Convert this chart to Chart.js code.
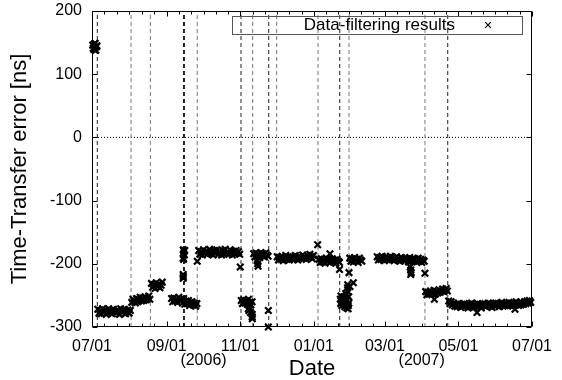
<!DOCTYPE html>
<html>
<head>
<meta charset="utf-8">
<script src="https://cdn.jsdelivr.net/npm/chart.js@4/dist/chart.umd.min.js"></script>
<style>
  html, body { margin: 0; padding: 0; background: #fff; }
  canvas { display: block; }
</style>
</head>
<body>
<canvas id="c" width="562" height="380"></canvas>
<script>
// Days are counted from 2006-07-01.
const monthTickDays = [0, 62, 123, 184, 243, 304, 365];
const monthTickLabels = ['07/01', '09/01', '11/01', '01/01', '03/01', '05/01', '07/01'];
const yearLabelDays = [92.5, 273.5];
const yearLabels = ['(2006)', '(2007)'];

// Event markers (vertical dashed lines)
const eventDaysDark = [4.4, 75.9, 76.7, 123.6, 146.6, 205.5, 295.1];
const eventDaysLight = [32.4, 48.4, 87.3, 133.3, 153.2, 187.5, 213.2, 276.2];

// Filtered time-transfer error [ns], one value per day inside each run
const runStart = [0.6, 1.1, 4.8, 33.0, 49.3, 66.0, 77.0, 88.5, 123.8, 134.1, 153.7, 188.3, 213.8, 236.6, 276.8, 295.9];
const runJulyA = [146, 139, 149, 143];
const runJulyB = [141, 148, 138, 145];
const runJuly = [-272, -278, -274, -279, -271, -276, -273, -280, -275, -271, -277, -274, -279, -272, -276, -278, -273, -275, -280, -271, -277, -274, -272, -279, -276, -273, -278, -274];
const runAug = [-261, -256, -259, -262, -255, -260, -257, -253, -259, -254, -258, -252, -257, -255, -251, -256];
const runAugEnd = [-231, -237, -233, -239, -230, -236, -232, -238, -234, -229];
const runSepA = [-255, -260, -254, -259, -256, -261, -253, -258, -257, -262, -255];
const runSepB = [-264, -259, -263, -258, -266, -261, -260, -265, -262, -267, -263];
const runOct = [-179, -185, -181, -186, -178, -183, -180, -185, -182, -177, -184, -181, -186, -179, -183, -178, -185, -180, -182, -186, -179, -184, -177, -183, -181, -185, -178, -182, -186, -180, -184, -179, -183, -181, -185];
const runNovA = [-258, -263, -257, -262, -259, -264, -256, -261, -265, -260];
const runNovB = [-184, -189, -183, -188, -185, -190, -182, -187, -184, -189, -183, -186, -188];
const runDec = [-189, -194, -190, -193, -188, -195, -191, -187, -193, -190, -194, -188, -192, -189, -193, -187, -191, -194, -188, -190, -192, -186, -191, -189, -193, -187, -190, -185, -189, -192, -187];
const runJan = [-193, -198, -192, -197, -194, -199, -191, -196, -193, -198, -195, -192, -197, -194, -199, -193, -196, -198];
const runFebA = [-191, -196, -192, -197, -190, -195, -193, -198, -191, -194, -196];
const runMar = [-189, -194, -190, -193, -188, -192, -195, -189, -193, -191, -194, -188, -193, -190, -195, -191, -189, -194, -192, -196, -190, -193, -195, -191, -194, -192, -197, -190, -195, -193, -196, -192, -194, -197, -191, -196, -193, -198, -194, -196];
const runApr = [-244, -249, -245, -248, -243, -247, -246, -242, -248, -244, -246, -241, -245, -243, -240, -244, -242, -239, -243];
const runMay = [-259, -263, -260, -265, -262, -267, -264, -268, -263, -266,
                -269, -264, -267, -263, -268, -265, -270, -264, -267, -262,
                -266, -269, -264, -268, -263, -267, -265, -270, -264, -266,
                -263, -268, -265, -262, -267, -264, -269, -263, -266, -262,
                -266, -263, -268, -264, -261, -267, -263, -266, -262, -265,
                -261, -266, -263, -267, -262, -265, -260, -264, -266, -261,
                -265, -262, -264, -260, -263, -259, -262, -258, -261];
const runValues = [runJulyA, runJulyB, runJuly, runAug, runAugEnd, runSepA, runSepB, runOct, runNovA, runNovB, runDec, runJan, runFebA, runMar, runApr, runMay];

// Short bursts and isolated samples
const spotDays = [75.7, 76.0, 76.3, 76.6, 76.9, 75.7, 75.9, 75.6, 75.8, 75.7,
                  87.3, 123.0,
                  129.7, 130.2, 131.0, 131.5, 132.9, 132.9, 133.0,
                  137.0, 137.4, 137.8, 146.3, 146.3,
                  187.2, 197.4, 205.3,
                  206.0, 206.3, 206.6, 207.0, 207.3, 207.6, 208.0, 208.3, 208.6, 209.0, 209.4, 209.8,
                  210.2, 210.6, 211.0, 211.4, 211.8, 212.2, 212.6, 213.0, 212.0, 213.0, 210.5, 212.5,
                  212.1, 214.0, 216.8, 213.2,
                  264.0, 264.4, 264.8, 264.4, 276.2, 284.0, 319.4, 350.9];
const spotValues = [-178, -184, -180, -186, -179, -191, -193, -217, -220, -223,
                    -196, -205,
                    -271, -274, -272, -277, -280, -284, -287,
                    -195, -200, -204, -274, -300,
                    -170, -184, -209,
                    -256, -263, -251, -260, -266, -254, -262, -257, -265, -252, -260, -268,
                    -255, -263, -248, -270, -258, -244, -266, -252, -238, -262, -247, -271,
                    -233, -236, -230, -214,
                    -205, -210, -214, -217, -215, -256, -277, -272];

const FONT = "'Liberation Sans', Arial, Helvetica, sans-serif";
Chart.defaults.font.family = FONT;
Chart.defaults.color = '#000';

const samples = [];
runValues.forEach((vals, i) => vals.forEach((v, k) => samples.push({ x: runStart[i] + k, y: v })));
spotDays.forEach((d, i) => samples.push({ x: d, y: spotValues[i] }));

function eventLines(days) {
  const pts = [];
  days.forEach(d => { pts.push({ x: d, y: -300 }, { x: d, y: 200 }, { x: d, y: NaN }); });
  return pts;
}

// Boxed plot frame with inward tick marks on all four sides
const framePlugin = {
  id: 'frame',
  afterDatasetsDraw(chart) {
    const { ctx, chartArea: a, scales: { x, y } } = chart;
    const L = Math.round(a.left) + 0.5, R = Math.round(a.right) - 0.5;
    const T = Math.round(a.top) + 0.5, B = Math.round(a.bottom) - 0.5;
    ctx.save();
    ctx.strokeStyle = '#000';
    ctx.lineWidth = 1;
    ctx.beginPath();
    ctx.rect(L, T, R - L, B - T);
    // y ticks every 100
    for (let v = -300; v <= 200; v += 100) {
      const py = Math.round(y.getPixelForValue(v)) + 0.5;
      ctx.moveTo(L, py); ctx.lineTo(L + 5, py);
      ctx.moveTo(R, py); ctx.lineTo(R - 5, py);
    }
    // x ticks: month pairs, split into six minor steps
    for (let i = 0; i < monthTickDays.length; i++) {
      const px = Math.round(x.getPixelForValue(monthTickDays[i])) + 0.5;
      ctx.moveTo(px, B); ctx.lineTo(px, B - 5);
      ctx.moveTo(px, T); ctx.lineTo(px, T + 5);
      if (i < monthTickDays.length - 1) {
        const span = monthTickDays[i + 1] - monthTickDays[i];
        for (let k = 1; k < 6; k++) {
          const mx = Math.round(x.getPixelForValue(monthTickDays[i] + span * k / 6)) + 0.5;
          ctx.moveTo(mx, B); ctx.lineTo(mx, B - 3);
          ctx.moveTo(mx, T); ctx.lineTo(mx, T + 3);
        }
      }
    }
    ctx.stroke();
    ctx.restore();
  }
};

// Boxed key in the upper right: label text followed by the sample marker
const keyPlugin = {
  id: 'key',
  afterDatasetsDraw(chart) {
    const { ctx, chartArea: a } = chart;
    const ds = chart.data.datasets[0];
    ctx.save();
    ctx.strokeStyle = '#555';
    ctx.lineWidth = 1;
    ctx.strokeRect(Math.round(a.right - 300) + 0.5, Math.round(a.top + 5) + 0.5, 290, 18);
    ctx.font = '17px ' + FONT;
    ctx.fillStyle = '#000';
    ctx.textAlign = 'right';
    ctx.textBaseline = 'middle';
    ctx.fillText(ds.label, a.right - 77, a.top + 14.5);
    const mx = a.right - 44, my = a.top + 14;
    const r = 2.8;
    ctx.strokeStyle = '#000';
    ctx.lineWidth = 1.2;
    ctx.beginPath();
    ctx.moveTo(mx - r, my - r); ctx.lineTo(mx + r, my + r);
    ctx.moveTo(mx - r, my + r); ctx.lineTo(mx + r, my - r);
    ctx.stroke();
    ctx.restore();
  }
};

// Year notes under the date labels and the axis caption
const xCaptionPlugin = {
  id: 'xCaption',
  afterDraw(chart) {
    const { ctx, chartArea: a, scales: { x } } = chart;
    ctx.save();
    ctx.fillStyle = '#000';
    ctx.textAlign = 'center';
    ctx.textBaseline = 'middle';
    ctx.font = '16px ' + FONT;
    yearLabels.forEach((t, i) => ctx.fillText(t, x.getPixelForValue(yearLabelDays[i]), 361));
    ctx.font = '22px ' + FONT;
    ctx.fillText('Date', (a.left + a.right) / 2, 369);
    ctx.restore();
  }
};

new Chart(document.getElementById('c'), {
  type: 'scatter',
  data: {
    datasets: [
      {
        label: 'Data-filtering results',
        data: samples,
        pointStyle: 'crossRot',
        pointRadius: 4.6,
        pointBorderWidth: 2.2,
        borderColor: '#000',
        backgroundColor: '#000',
        clip: false,
        order: 0
      },
      {
        label: 'events',
        type: 'line',
        data: eventLines(eventDaysDark),
        showLine: true,
        spanGaps: false,
        pointRadius: 0,
        borderColor: '#222',
        borderWidth: 1,
        borderDash: [4, 3],
        order: 2
      },
      {
        label: 'events2',
        type: 'line',
        data: eventLines(eventDaysLight),
        showLine: true,
        spanGaps: false,
        pointRadius: 0,
        borderColor: '#777',
        borderWidth: 1,
        borderDash: [4, 3],
        order: 3
      },
      {
        label: 'zero',
        type: 'line',
        data: [{ x: 0, y: 0 }, { x: 365, y: 0 }],
        showLine: true,
        pointRadius: 0,
        borderColor: '#000',
        borderWidth: 1,
        borderDash: [1, 2],
        order: 4
      }
    ]
  },
  options: {
    responsive: false,
    animation: false,
    devicePixelRatio: 1,
    layout: { padding: { top: 11, right: 30, left: 0, bottom: 0 } },
    plugins: { legend: { display: false }, tooltip: { enabled: false } },
    scales: {
      x: {
        type: 'linear',
        min: 0,
        max: 365,
        afterBuildTicks: s => { s.ticks = monthTickDays.map(v => ({ value: v })); },
        afterFit: s => { s.height = 53; s.paddingLeft = 0; s.paddingRight = 0; },
        ticks: {
          autoSkip: false,
          maxRotation: 0,
          padding: 10,
          font: { size: 16 },
          callback: v => monthTickLabels[monthTickDays.indexOf(v)]
        },
        grid: { display: false, drawTicks: false },
        border: { display: false }
      },
      y: {
        min: -300,
        max: 200,
        afterFit: s => { s.width = 92; s.paddingTop = 0; s.paddingBottom = 0; },
        ticks: { stepSize: 100, padding: 10, font: { size: 16 } },
        grid: { display: false, drawTicks: false },
        border: { display: false },
        title: {
          display: true,
          text: 'Time-Transfer error [ns]',
          font: { size: 22 },
          padding: { top: 7, bottom: 0 }
        }
      }
    }
  },
  plugins: [framePlugin, keyPlugin, xCaptionPlugin]
});
</script>
</body>
</html>
